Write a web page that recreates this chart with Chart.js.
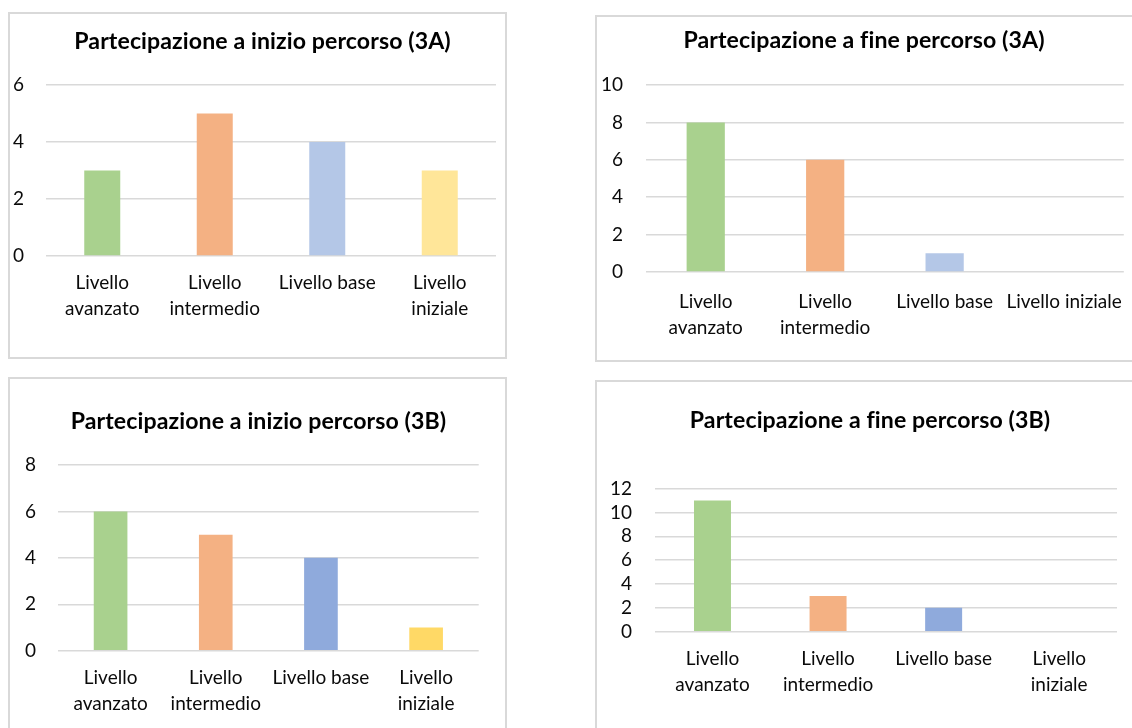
<!DOCTYPE html>
<html>
<head>
<meta charset="utf-8">
<script src="https://cdn.jsdelivr.net/npm/chart.js@4.4.1/dist/chart.umd.min.js"></script>
<style>
  html, body { margin: 0; padding: 0; background: #fff; overflow: hidden; width: 1132px; height: 728px; }
  .frame { position: absolute; box-sizing: border-box; border: 2px solid #D9D9D9; background: #fff; }
  canvas { position: absolute; }
</style>
</head>
<body>
<div class="frame" style="left:8px;top:12px;width:499px;height:347px"></div>
<canvas id="c1" width="499" height="347" style="left:8px;top:12px"></canvas>
<div class="frame" style="left:595px;top:15px;width:545px;height:347px"></div>
<canvas id="c2" width="545" height="347" style="left:595px;top:15px"></canvas>
<div class="frame" style="left:8px;top:377px;width:499px;height:360px"></div>
<canvas id="c3" width="499" height="360" style="left:8px;top:377px"></canvas>
<div class="frame" style="left:595px;top:380px;width:545px;height:360px"></div>
<canvas id="c4" width="545" height="360" style="left:595px;top:380px"></canvas>

<script>
// Participation levels per class, at the start and at the end of the course
const levels = ['Livello avanzato', 'Livello intermedio', 'Livello base', 'Livello iniziale'];
const levelLabelsWrapped = [['Livello', 'avanzato'], ['Livello', 'intermedio'], 'Livello base', ['Livello', 'iniziale']];
const levelLabelsEnd3A = [['Livello', 'avanzato'], ['Livello', 'intermedio'], 'Livello base', 'Livello iniziale'];

const inizio3A = [3, 5, 4, 3];
const fine3A = [8, 6, 1, 0];
const inizio3B = [6, 5, 4, 1];
const fine3B = [11, 3, 2, 0];

const titles = [
  'Partecipazione a inizio percorso (3A)',
  'Partecipazione a fine percorso (3A)',
  'Partecipazione a inizio percorso (3B)',
  'Partecipazione a fine percorso (3B)'
];

const axisMax = [6, 10, 8, 12];
const axisStep = 2;

// Bar colours per level
const colors3A = ['#A9D18E', '#F4B183', '#B4C7E7', '#FFE699'];
const colors3B = ['#A9D18E', '#F4B183', '#8FAADC', '#FFD966'];

// Plot box geometry for each panel (canvas-local pixels)
const panels = [
  { id: 'c1', labels: levelLabelsWrapped, values: inizio3A, colors: colors3A, title: titles[0], max: axisMax[0],
    padT: 73, padR: 11, yW: 38, yPad: 22, titleX: 254.5, titleY: 30, xH: 103, xPad: 14 },
  { id: 'c2', labels: levelLabelsEnd3A, values: fine3A, colors: colors3A, title: titles[1], max: axisMax[1],
    padT: 70, padR: 10, yW: 51, yPad: 23, titleX: 269, titleY: 26, xH: 90, xPad: 17 },
  { id: 'c3', labels: levelLabelsWrapped, values: inizio3B, colors: colors3B, title: titles[2], max: axisMax[2],
    padT: 88, padR: 28.3, yW: 50, yPad: 22, titleX: 250.5, titleY: 45, xH: 86.3, xPad: 14 },
  { id: 'c4', labels: levelLabelsWrapped, values: fine3B, colors: colors3B, title: titles[3], max: axisMax[3],
    padT: 108.7, padR: 23, yW: 59.7, yPad: 22.7, titleX: 275, titleY: 40.5, xH: 108.3, xPad: 14 }
];

const FONT = 'Lato, "Open Sans", sans-serif';
const TEXT = '#0a0a0a';
const TITLE_SIZE = 23.1;

// Draws the panel heading centred on a given point
const panelTitle = {
  id: 'panelTitle',
  afterDraw(chart, args, opts) {
    const ctx = chart.ctx;
    ctx.save();
    ctx.font = 'bold ' + TITLE_SIZE + 'px ' + FONT;
    ctx.fillStyle = '#000';
    ctx.textAlign = 'center';
    ctx.textBaseline = 'middle';
    if ('textRendering' in ctx) ctx.textRendering = 'optimizeSpeed';
    if ('letterSpacing' in ctx) ctx.letterSpacing = '0.1px';
    ctx.fillText(opts.text, opts.x, opts.y);
    ctx.restore();
  }
};

function draw(p) {
  return new Chart(document.getElementById(p.id), {
    type: 'bar',
    data: {
      labels: p.labels,
      datasets: [{
        data: p.values,
        backgroundColor: p.colors,
        borderWidth: 0,
        categoryPercentage: 1,
        barPercentage: 0.32
      }]
    },
    plugins: [panelTitle],
    options: {
      responsive: false,
      animation: false,
      devicePixelRatio: 1,
      layout: { padding: { left: 0, right: p.padR, top: p.padT, bottom: 0 } },
      plugins: {
        legend: { display: false },
        tooltip: { enabled: false },
        title: { display: false },
        panelTitle: { text: p.title, x: p.titleX, y: p.titleY }
      },
      scales: {
        x: {
          grid: { display: false, drawTicks: false },
          border: { display: false },
          ticks: {
            color: TEXT,
            font: { family: FONT, size: 19, lineHeight: '26px' },
            padding: p.xPad,
            maxRotation: 0,
            autoSkip: false
          },
          afterFit(scale) { scale.height = p.xH; }
        },
        y: {
          min: 0,
          max: p.max,
          grid: { color: '#D9D9D9', lineWidth: 1.5, drawTicks: false },
          border: { display: false },
          ticks: {
            stepSize: axisStep,
            autoSkip: false,
            color: TEXT,
            font: { family: FONT, size: 19 },
            padding: p.yPad
          },
          afterFit(scale) { scale.width = p.yW; }
        }
      }
    }
  });
}

Promise.all([
  document.fonts.load('19px Lato'),
  document.fonts.load('bold 19px Lato')
]).catch(() => {}).then(() => panels.forEach(draw));
</script>
</body>
</html>
